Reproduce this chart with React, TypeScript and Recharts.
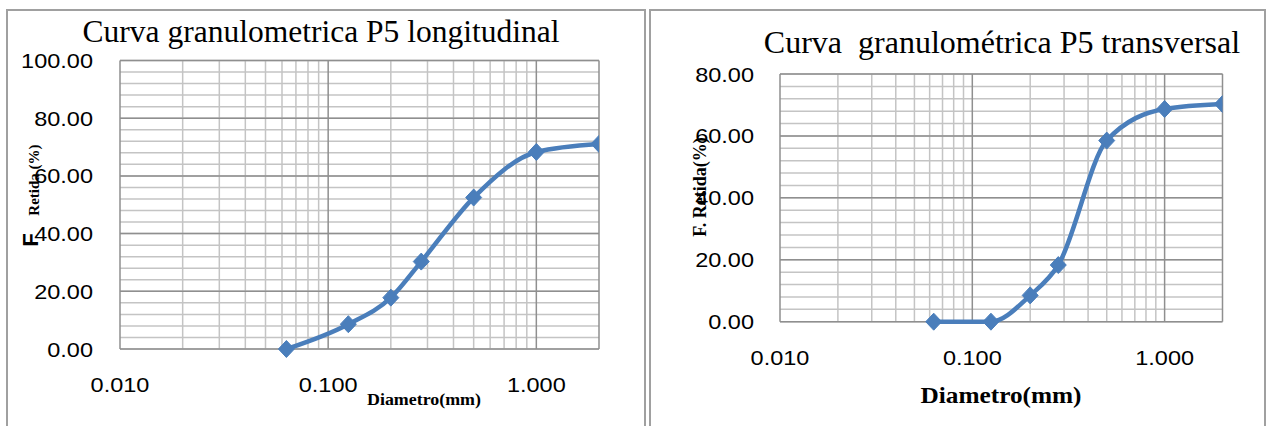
import React from "react";
import { LineChart, Line, XAxis, YAxis, CartesianGrid } from "recharts";

// Sieve diameters (mm)
const diameters = [0.063, 0.125, 0.2, 0.28, 0.5, 1, 2];
// F. Retida (%) — longitudinal
const retidaLongitudinal = [0, 8.6, 17.8, 30.3, 52.5, 68.3, 71.1];
// F. Retida (%) — transversal
const retidaTransversal = [0, 0, 8.5, 18.3, 58.5, 68.7, 70.3];

const xTickValues = [0.01, 0.1, 1];
const xMajorGrid = [0.01, 0.1, 1, 2];
const xMinorGrid = [0.02, 0.03, 0.04, 0.05, 0.06, 0.07, 0.08, 0.09, 0.2, 0.3, 0.4, 0.5, 0.6, 0.7, 0.8, 0.9];
const yTicksLong = [0, 20, 40, 60, 80, 100];
const yTicksTrans = [0, 20, 40, 60, 80];
const yMinorLong = [0, 4, 8, 12, 16, 20, 24, 28, 32, 36, 40, 44, 48, 52, 56, 60, 64, 68, 72, 76, 80, 84, 88, 92, 96, 100];
const yMinorTrans = [0, 4, 8, 12, 16, 20, 24, 28, 32, 36, 40, 44, 48, 52, 56, 60, 64, 68, 72, 76, 80];

const dataLong = diameters.map((d, i) => ({ d, v: retidaLongitudinal[i] }));
const dataTrans = diameters.map((d, i) => ({ d, v: retidaTransversal[i] }));

const BLUE = "#4A7EBB";
const MAJOR = "#8f8f8f";
const MINOR = "#c4c4c4";
const TICK_FONT = "'Liberation Sans', Arial, sans-serif";
const SERIF = "'Liberation Serif', 'Times New Roman', serif";

const Diamond = (props: any) => {
  const { cx, cy } = props;
  if (cx == null || cy == null) return null;
  return (
    <path
      d={`M${cx},${cy - 8.5}L${cx + 8},${cy}L${cx},${cy + 8.5}L${cx - 8},${cy}Z`}
      fill={BLUE}
      stroke={BLUE}
      strokeWidth={1}
    />
  );
};

const makeYTick = (gap: number) => (props: any) => {
  const { x, y, payload } = props;
  return (
    <g transform={`translate(${x - gap},${y + 7.5}) scale(1.12,1)`}>
      <text x={0} y={0} textAnchor="end" fontFamily={TICK_FONT} fontSize={21} fill="#000">
        {Number(payload.value).toFixed(2)}
      </text>
    </g>
  );
};

const makeXTick = (off: number) => (props: any) => {
  const { x, y, payload } = props;
  return (
    <g transform={`translate(${x},${y + off}) scale(1.12,1)`}>
      <text x={0} y={0} textAnchor="middle" fontFamily={TICK_FONT} fontSize={21} fill="#000">
        {Number(payload.value).toFixed(3)}
      </text>
    </g>
  );
};

interface PanelProps {
  data: { d: number; v: number }[];
  width: number;
  height: number;
  margin: { top: number; right: number; bottom: number; left: number };
  yMax: number;
  yTicks: number[];
  yMinor: number[];
  yGap: number;
  xOff: number;
}

const Panel = ({ data, width, height, margin, yMax, yTicks, yMinor, yGap, xOff }: PanelProps) => (
  <LineChart width={width} height={height} data={data} margin={margin}>
    <CartesianGrid
      stroke={MINOR}
      strokeWidth={1.5}
      horizontalValues={yMinor}
      verticalValues={xMinorGrid}
    />
    <CartesianGrid
      stroke={MAJOR}
      strokeWidth={1.5}
      horizontalValues={yTicks}
      verticalValues={xMajorGrid}
    />
    <XAxis
      dataKey="d"
      type="number"
      scale="log"
      domain={[0.01, 2]}
      ticks={xTickValues}
      allowDataOverflow
      axisLine={false}
      tickLine={false}
      tickSize={0}
      tickMargin={0}
      height={1}
      interval={0}
      tick={makeXTick(xOff)}
    />
    <YAxis
      type="number"
      domain={[0, yMax]}
      ticks={yTicks}
      axisLine={false}
      tickLine={false}
      tickSize={0}
      tickMargin={0}
      width={1}
      interval={0}
      tick={makeYTick(yGap)}
    />
    <Line
      type="monotone"
      dataKey="v"
      stroke={BLUE}
      strokeWidth={4.5}
      dot={(p: any) => <Diamond key={`d-${p.index}`} {...p} />}
      activeDot={false}
      isAnimationActive={false}
    />
  </LineChart>
);

export default function App() {
  return (
    <div
      style={{
        position: "absolute",
        left: 0,
        top: 0,
        width: 1276,
        height: 426,
        overflow: "hidden",
        background: "#fff",
      }}
    >
      <div
        style={{
          position: "absolute",
          left: 6,
          top: 9,
          width: 640,
          height: 440,
          border: "2px solid #a0a0a0",
          boxSizing: "border-box",
        }}
      />
      <div
        style={{
          position: "absolute",
          left: 649,
          top: 9,
          width: 617,
          height: 440,
          border: "2px solid #a0a0a0",
          boxSizing: "border-box",
        }}
      />
      <div style={{ position: "absolute", left: 0, top: 0 }}>
        <Panel
          data={dataLong}
          width={645}
          height={426}
          margin={{ top: 60.5, right: 46, bottom: 76, left: 119 }}
          yMax={100}
          yTicks={yTicksLong}
          yMinor={yMinorLong}
          yGap={27}
          xOff={42.5}
        />
      </div>
      <div style={{ position: "absolute", left: 645, top: 0 }}>
        <Panel
          data={dataTrans}
          width={631}
          height={426}
          margin={{ top: 74, right: 53.5, bottom: 103.3, left: 134 }}
          yMax={80}
          yTicks={yTicksTrans}
          yMinor={yMinorTrans}
          yGap={26}
          xOff={43.3}
        />
      </div>
      <svg
        width={1276}
        height={426}
        style={{ position: "absolute", left: 0, top: 0, pointerEvents: "none" }}
      >
        <text x={321} y={42} textAnchor="middle" fontFamily={SERIF} fontSize={31.5} fill="#000">
          Curva granulometrica P5 longitudinal
        </text>
        <text
          x={1002}
          y={53}
          textAnchor="middle"
          fontFamily={SERIF}
          fontSize={32}
          fill="#000"
          style={{ whiteSpace: "pre" }}
        >
          {"Curva  granulométrica P5 transversal"}
        </text>
        <g transform="translate(424,405) scale(1.12,1)">
          <text x={0} y={0} textAnchor="middle" fontFamily={SERIF} fontWeight="bold" fontSize={16} fill="#000">
            Diametro(mm)
          </text>
        </g>
        <g transform="translate(1001,403) scale(1.1,1)">
          <text x={0} y={0} textAnchor="middle" fontFamily={SERIF} fontWeight="bold" fontSize={23} fill="#000">
            Diametro(mm)
          </text>
        </g>
        <g transform="translate(38,240) rotate(-90)">
          <text x={0} y={0} textAnchor="middle" fontFamily={TICK_FONT} fontWeight="bold" fontSize={22} fill="#000">
            F
          </text>
        </g>
        <g transform="translate(39,180) rotate(-90)">
          <text x={0} y={0} textAnchor="middle" fontFamily={SERIF} fontWeight="bold" fontSize={15} fill="#000">
            Retida (%)
          </text>
        </g>
        <g transform="translate(706,187) rotate(-90)">
          <text x={0} y={0} textAnchor="middle" fontFamily={SERIF} fontWeight="bold" fontSize={18} fill="#000">
            F. Retida(%)
          </text>
        </g>
      </svg>
    </div>
  );
}
